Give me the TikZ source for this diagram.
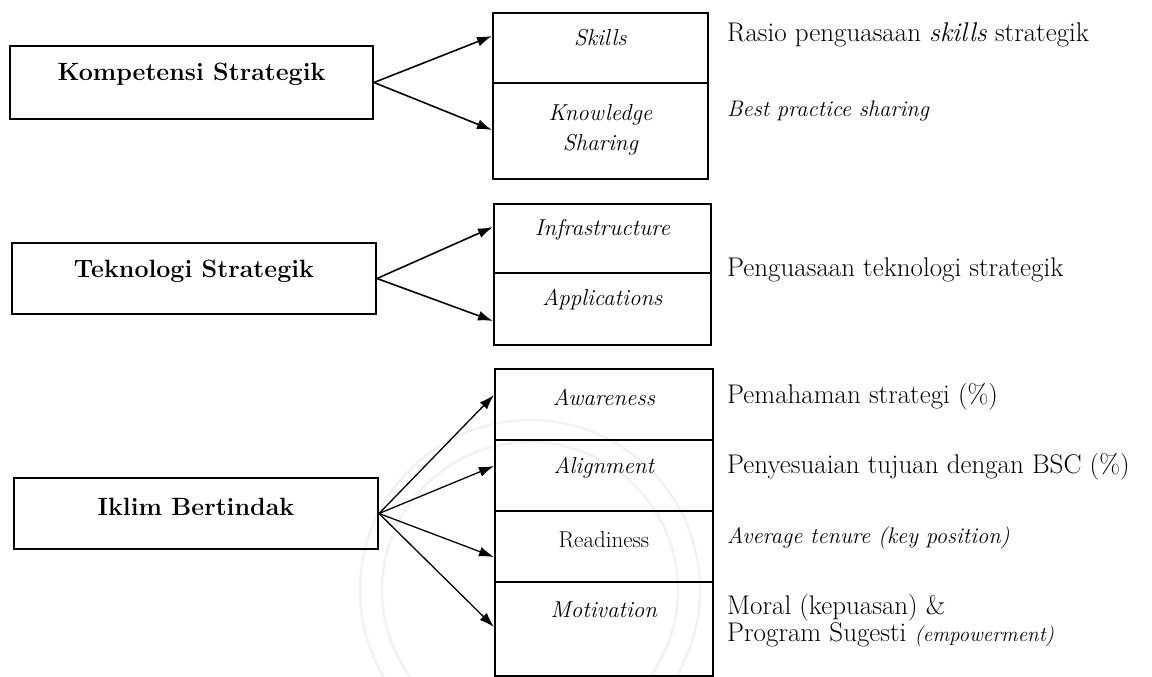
\documentclass[tikz,border=0pt]{standalone}
\usetikzlibrary{arrows.meta}
\begin{document}
\begin{tikzpicture}[x=1pt,y=-1pt,
  lbox/.style={draw, line width=2pt, anchor=north west, inner sep=0pt},
  cell/.style={draw, line width=1.8pt, anchor=north west, inner sep=0pt},
  ltext/.style={inner sep=0pt, font=\fontsize{25}{30}\selectfont\bfseries},
  ctext/.style={inner sep=0pt, align=center, font=\fontsize{23}{30}\selectfont\itshape},
  rtext/.style={inner sep=0pt, anchor=west, align=left, font=\fontsize{27}{27}\selectfont},
  ritext/.style={inner sep=0pt, anchor=west, font=\fontsize{22.5}{27}\selectfont\itshape},
  arr/.style={-{Latex[length=15pt,width=10pt]}, line width=1.6pt},
  arrthin/.style={-{Latex[length=15pt,width=10pt]}, line width=1.3pt},
  seal/.style={draw=black!5, line width=2.5pt}
]
\useasboundingbox[fill=white] (0,0) rectangle (1152,677);

% ---- faint seal in the background
\draw[seal] (530,590) circle[radius=170pt];
\draw[seal] (530,590) circle[radius=148pt];

% ---- left column: the three perspective boxes
\node[lbox, minimum width=363pt, minimum height=73pt] (komp) at (9,45) {};
\node[ltext] (kompT) at ([yshift=8pt]komp.center) {Kompetensi Strategik};

\node[lbox, minimum width=364pt, minimum height=71pt] (tekn) at (11,242) {};
\node[ltext] (teknT) at ([yshift=7pt]tekn.center) {Teknologi Strategik};

\node[lbox, minimum width=364pt, minimum height=71pt] (iklim) at (13,477) {};
\node[ltext] (iklimT) at ([yshift=7pt]iklim.center) {Iklim Bertindak};

% ---- middle column: stacked cells
\node[cell, minimum width=215pt, minimum height=70pt] (skills) at (492,12) {};
\node[ctext] (skillsT) at ([yshift=-26pt]skills.north) {Skills};
\node[cell, minimum width=215pt, minimum height=96pt] (knowl) at (492,82) {};
\node[ctext] (knowlT) at ([yshift=-48pt]knowl.north) {Knowledge\\Sharing};

\node[cell, minimum width=217pt, minimum height=69pt] (infra) at (493,203) {};
\node[ctext] (infraT) at ([yshift=-27pt]infra.north) {Infrastructure};
\node[cell, minimum width=217pt, minimum height=72pt] (apps) at (493,272) {};
\node[ctext] (appsT) at ([yshift=-28pt]apps.north) {Applications};

\node[cell, minimum width=218pt, minimum height=71pt] (aware) at (494,368) {};
\node[ctext] (awareT) at ([yshift=-29pt]aware.north) {Awareness};
\node[cell, minimum width=218pt, minimum height=71pt] (align) at (494,439) {};
\node[ctext] (alignT) at ([yshift=-29pt]align.north) {Alignment};
\node[cell, minimum width=218pt, minimum height=71pt] (ready) at (494,510) {};
\node[ctext] (readyT) at ([yshift=-30pt]ready.north) {\upshape Readiness};
\node[cell, minimum width=218pt, minimum height=94pt] (motiv) at (494,581) {};
\node[ctext] (motivT) at ([yshift=-29pt]motiv.north) {Motivation};

% ---- right column: measures
\node[rtext] (rasio) at (727,35) {Rasio penguasaan \textit{skills} strategik};
\node[ritext] (best) at (727,111) {Best practice sharing};
\node[rtext] (pengu) at (727,270) {Penguasaan teknologi strategik};
\node[rtext] (pemah) at (727,397) {Pemahaman strategi (\%)};
\node[rtext] (penye) at (727,467) {Penyesuaian tujuan dengan BSC (\%)};
\node[ritext] (avera) at (727,538) {Average tenure (key position)};
\node[rtext] (moral) at (727,621) {Moral (kepuasan) \&\\Program Sugesti {\fontsize{21}{27}\selectfont\itshape(empowerment)}};

% ---- connectors
\draw[arr] (komp.east) -- ([yshift=-24pt]skills.north west);
\draw[arr] (komp.east) -- ([yshift=-48pt]knowl.north west);

\draw[arr] (tekn.east) -- ([yshift=-24pt]infra.north west);
\draw[arr] (tekn.east) -- ([yshift=-49pt]apps.north west);

\draw[arrthin] (iklim.east) -- ([yshift=-27pt]aware.north west);
\draw[arrthin] (iklim.east) -- ([yshift=-27pt]align.north west);
\draw[arrthin] (iklim.east) -- ([yshift=-47pt]ready.north west);
\draw[arrthin] (iklim.east) -- ([yshift=-46pt]motiv.north west);
\end{tikzpicture}
\end{document}
